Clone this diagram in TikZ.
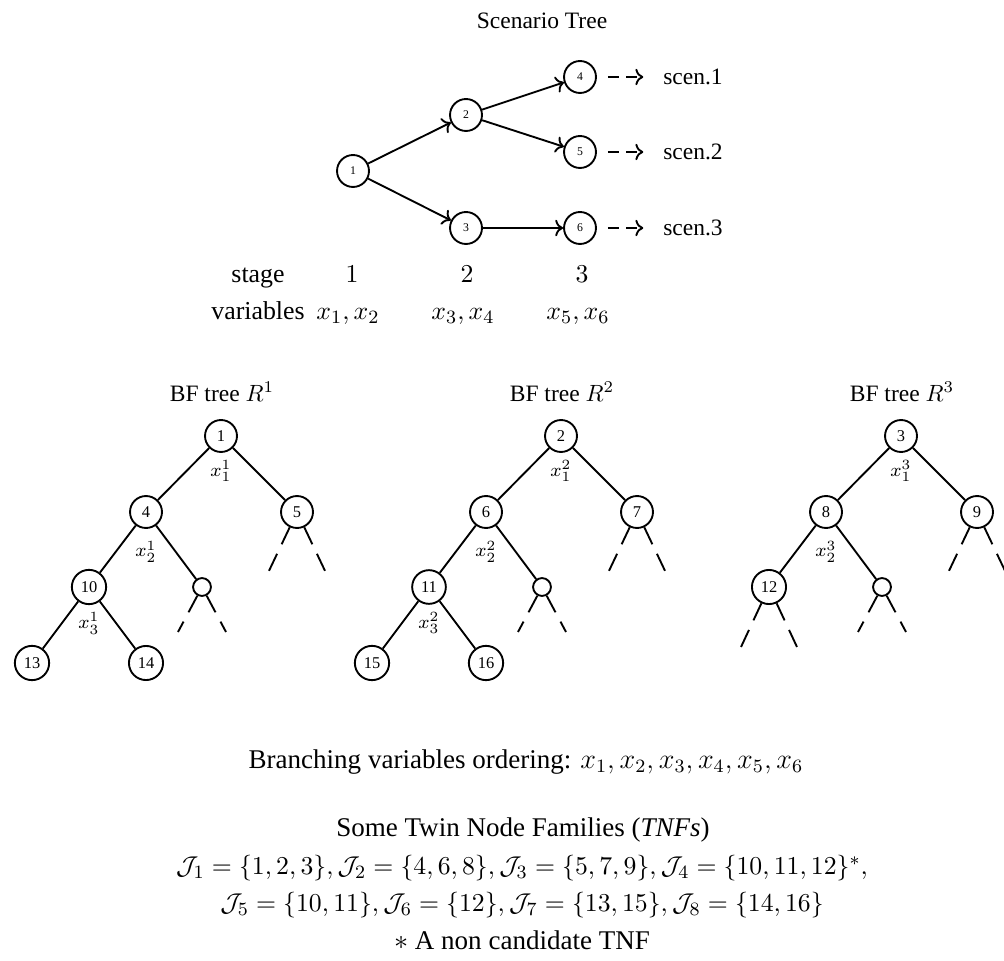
\documentclass[tikz,border=0pt]{standalone}
\usepackage[no-math]{fontspec}
\setmainfont{Liberation Serif}
\usepackage{amsmath,amssymb}
\usetikzlibrary{positioning,arrows.meta}
\newcommand{\midsize}{\fontsize{11}{13.5}\selectfont}
\newcommand{\lowsize}{\fontsize{11.5}{14}\selectfont}
\newcommand{\famsize}{\fontsize{11.2}{14}\selectfont}

\begin{document}
\begin{tikzpicture}[x=0.4255pt, y=-0.4255pt,
  sn/.style={circle, draw, thick, minimum size=13.6pt, inner sep=0pt, font=\tiny},
  bn/.style={circle, draw, thick, minimum size=13.6pt, inner sep=2.2pt, font=\scriptsize},
  en/.style={circle, draw, thick, minimum size=7.6pt, inner sep=0pt},
  lb/.style={font=\footnotesize, inner sep=2pt},
  rw/.style={font=\midsize, anchor=base},
  ar/.style={->, thick},
  da/.style={->, thick, dash pattern=on 4.5pt off 3.3pt, shorten <=4.7pt, shorten >=5pt},
  ed/.style={thick},
  st/.style={thick, dash pattern=on 8pt off 4.5pt}]
\useasboundingbox (0,0) rectangle (1004,961);
% scenario tree
\node (ttl) at (542,21) {Scenario Tree};
\node[sn] (t1) at (353,171) {1};
\node[sn] (t2) at (466,115) {2};
\node[sn] (t3) at (466,228) {3};
\node[sn] (t4) at (580,77) {4};
\node[sn] (t5) at (580,152) {5};
\node[sn] (t6) at (580,228) {6};
\foreach \x/\y in {t1/t2,t1/t3,t2/t4,t2/t5,t3/t6} {\draw[ar] (\x) -- (\y);}
\node[anchor=west] (s1) at (655,77) {scen.1};
\node[anchor=west] (s2) at (655,152) {scen.2};
\node[anchor=west] (s3) at (655,228) {scen.3};
\foreach \x/\y in {t4/s1,t5/s2,t6/s3} {\draw[da] (\x) -- (\y);}
% stages
\node[rw] (stg) at (258,283) {stage};
\node[rw] (g1) at (352,283) {$1$};
\node[rw] (g2) at (467,283) {$2$};
\node[rw] (g3) at (582,283) {$3$};
\node[rw] (var) at (258,320) {variables};
\node[rw] (v1) at (348,320) {$x_1,x_2$};
\node[rw] (v2) at (463,320) {$x_3,x_4$};
\node[rw] (v3) at (578,320) {$x_5,x_6$};
% BF trees
\foreach \k/\ox/\l/\r/\m in {1/0/4/5/10, 2/340/6/7/11, 3/680/8/9/12} {
  \node (h\k) at (222+\ox,392) {BF tree $R^{\k}$};
  \node[bn] (b\k) at (221+\ox,436) {\k};
  \node[bn] (b\l) at (146+\ox,512) {\l};
  \node[bn] (b\r) at (297+\ox,512) {\r};
  \node[bn] (b\m) at (89+\ox,587) {\m};
  \node[en] (e\k) at (202+\ox,587) {};
  \node[lb, below=1pt of b\k] (xa\k) {$x_1^{\k}$};
  \node[lb, below=3pt of b\l] (xb\k) {$x_2^{\k}$};
  \coordinate (p\r) at (267+\ox,575);
  \coordinate (q\r) at (327+\ox,575);
  \coordinate (pe\k) at (178+\ox,632);
  \coordinate (qe\k) at (226+\ox,632);
  \draw[ed] (b\k) -- (b\l) (b\k) -- (b\r) (b\l) -- (b\m) (b\l) -- (e\k);
  \draw[st] (b\r) -- (p\r) (b\r) -- (q\r) (e\k) -- (pe\k) (e\k) -- (qe\k);
}
\node[bn] (b13) at (32,663) {13};
\node[bn] (b14) at (146,663) {14};
\node[bn] (b15) at (372,663) {15};
\node[bn] (b16) at (486,663) {16};
\node[lb, below=1pt of b10] (xc1) {$x_3^1$};
\node[lb, below=1pt of b11] (xc2) {$x_3^2$};
\foreach \x/\y in {b10/b13,b10/b14,b11/b15,b11/b16} {\draw[ed] (\x) -- (\y);}
\coordinate (p12) at (741,647);
\coordinate (q12) at (797,647);
\draw[st] (b12) -- (p12) (b12) -- (q12);
% orderings and TNFs
\node[font=\lowsize] (ord) at (526,762) {Branching variables ordering: $x_1,x_2,x_3,x_4,x_5,x_6$};
\node[font=\lowsize] (tnf) at (523,830) {Some Twin Node Families (\emph{TNFs})};
\node[font=\famsize] (j1) at (522,868) {$\mathcal{J}_1=\{1,2,3\},\mathcal{J}_2=\{4,6,8\},\mathcal{J}_3=\{5,7,9\},\mathcal{J}_4=\{10,11,12\}^*,$};
\node[font=\famsize] (j2) at (522,905) {$\mathcal{J}_5=\{10,11\},\mathcal{J}_6=\{12\},\mathcal{J}_7=\{13,15\},\mathcal{J}_8=\{14,16\}$};
\node[font=\lowsize] (nc) at (522,940) {$*$ A non candidate TNF};
\end{tikzpicture}
\end{document}
